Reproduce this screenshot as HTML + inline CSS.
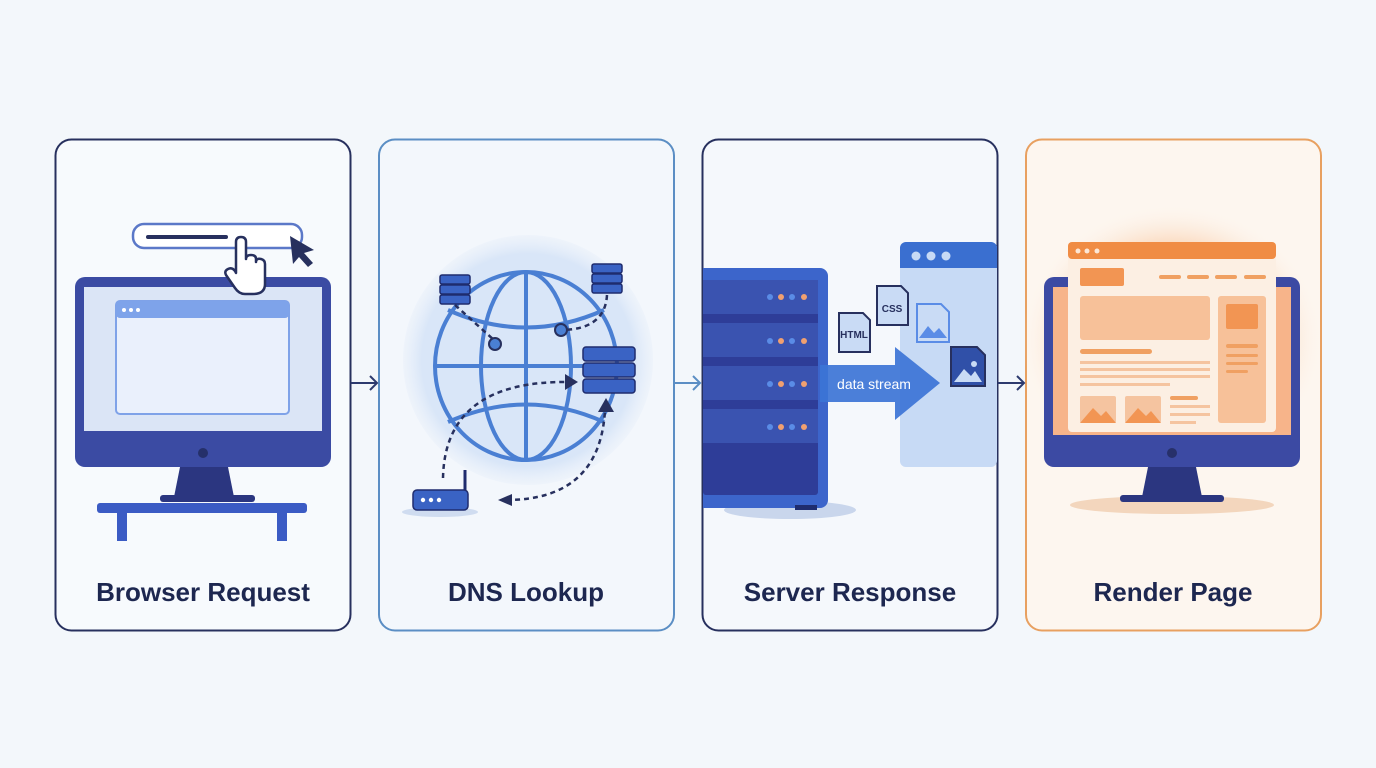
<!DOCTYPE html>
<html><head><meta charset="utf-8"><style>
html,body{margin:0;padding:0;background:#f3f7fb;}
svg{display:block}
text{font-family:"Liberation Sans",sans-serif}
</style></head><body>
<svg width="1376" height="768" viewBox="0 0 1376 768" xmlns="http://www.w3.org/2000/svg">
<defs>
<radialGradient id="og" cx="0.5" cy="0.5" r="0.5">
<stop offset="0.6" stop-color="#f7b27a" stop-opacity="0.75"/><stop offset="1" stop-color="#fdf4ec" stop-opacity="0"/>
</radialGradient>
<radialGradient id="bg2" cx="0.5" cy="0.5" r="0.5">
<stop offset="0.85" stop-color="#d9e6f8"/><stop offset="1" stop-color="#e6eef9" stop-opacity="0.4"/>
</radialGradient>
</defs>
<rect width="1376" height="768" fill="#f3f7fb"/>
<!-- cards -->
<rect x="55.5" y="139.5" width="295" height="491" rx="16" fill="#f7fafd" stroke="#27305e" stroke-width="2"/>
<rect x="379" y="139.5" width="295" height="491" rx="16" fill="#f3f7fc" stroke="#5b8ec4" stroke-width="2"/>
<rect x="702.5" y="139.5" width="295" height="491" rx="16" fill="#f5f8fc" stroke="#27305e" stroke-width="2"/>
<rect x="1026" y="139.5" width="295" height="491" rx="16" fill="#fdf6ef" stroke="#e8a060" stroke-width="2"/>
<!-- connectors -->
<g stroke="#2d3a6e" stroke-width="2" fill="none">
<path d="M351 383 H377 M370 376 L377 383 L370 390"/>
<path d="M675 383 H700 M693 376 L700 383 L693 390" stroke="#5b8ec4"/>
<path d="M998 383 H1024 M1017 376 L1024 383 L1017 390"/>
</g>
<!-- labels -->
<g font-size="26" font-weight="bold" fill="#1d2750" text-anchor="middle">
<text x="203" y="601">Browser Request</text>
<text x="526" y="601">DNS Lookup</text>
<text x="850" y="601">Server Response</text>
<text x="1173" y="601">Render Page</text>
</g>

<!-- Card 1 -->
<rect x="75" y="277" width="256" height="190" rx="10" fill="#3b4ba3"/>
<rect x="84" y="287" width="238" height="144" fill="#dbe5f6"/>
<circle cx="203" cy="453" r="5" fill="#25306a"/>
<path d="M180 467 H228 L234 497 H174 Z" fill="#2b3680"/>
<rect x="160" y="495" width="95" height="7" rx="3" fill="#2b3680"/>
<rect x="97" y="503" width="210" height="10" rx="3" fill="#3b5bc4"/>
<rect x="117" y="513" width="10" height="28" fill="#3b5bc4"/>
<rect x="277" y="513" width="10" height="28" fill="#3b5bc4"/>
<rect x="116" y="301" width="173" height="113" rx="4" fill="#eaf0fc" stroke="#7fa2e8" stroke-width="2"/>
<rect x="116" y="301" width="173" height="17" rx="4" fill="#7ea3ea"/>
<circle cx="124" cy="310" r="2" fill="#fff"/><circle cx="131" cy="310" r="2" fill="#fff"/><circle cx="138" cy="310" r="2" fill="#fff"/>
<rect x="133" y="224" width="169" height="24" rx="11" fill="#fff" stroke="#5b78c8" stroke-width="2.5"/>
<rect x="146" y="235" width="82" height="4" rx="2" fill="#27305e"/>
<!-- hand cursor -->
<path d="M236 242 q0-5 5-5 q5 0 5 5 v17 q0-4 5-4 q5 0 5 4 v3 q0-4 5-3 q4 1 4 5 v20 q0 10-12 10 h-8 q-6 0-10-6 l-9-13 q-2-4 2-6 q4-2 7 2 l1 2 Z" fill="#fff" stroke="#27305e" stroke-width="2.5" stroke-linejoin="round"/>
<path d="M290 236 L314 250 L304 253 L313 263 L308 267 L299 257 L293 264 Z" fill="#27305e"/>

<!-- Card 2 -->
<circle cx="528" cy="360" r="125" fill="url(#bg2)"/>
<g fill="none" stroke="#4a7fd3" stroke-width="4">
<ellipse cx="526" cy="366" rx="91" ry="94"/>
<ellipse cx="526" cy="366" rx="45" ry="94"/>
<line x1="526" y1="272" x2="526" y2="460"/>
<line x1="435" y1="366" x2="617" y2="366"/>
<path d="M448 310 Q526 345 604 310"/>
<path d="M448 422 Q526 387 604 422"/>
</g>
<g stroke="#27305e" stroke-width="2.5" stroke-dasharray="5 4" fill="none">
<path d="M455 305 L494 340"/>
<path d="M607 295 Q605 330 560 330"/>
<path d="M443 478 Q445 380 570 382"/>
<path d="M506 500 Q600 500 605 410"/>
</g>
<circle cx="495" cy="344" r="6" fill="#4a7fd3" stroke="#27305e" stroke-width="2"/>
<circle cx="561" cy="330" r="6" fill="#4a7fd3" stroke="#27305e" stroke-width="2"/>
<path d="M565 374 L578 382 L565 390 Z" fill="#27305e"/>
<path d="M598 412 L606 398 L614 412 Z" fill="#27305e"/>
<path d="M512 494 L498 500 L512 506 Z" fill="#27305e"/>
<g fill="#3a63c4" stroke="#1f2c6e" stroke-width="1.5">
<rect x="440" y="275" width="30" height="9" rx="2"/><rect x="440" y="285" width="30" height="9" rx="2"/><rect x="440" y="295" width="30" height="9" rx="2"/>
<rect x="592" y="264" width="30" height="9" rx="2"/><rect x="592" y="274" width="30" height="9" rx="2"/><rect x="592" y="284" width="30" height="9" rx="2"/>
<rect x="583" y="347" width="52" height="14" rx="3"/><rect x="583" y="363" width="52" height="14" rx="3"/><rect x="583" y="379" width="52" height="14" rx="3"/>
</g>
<ellipse cx="440" cy="512" rx="38" ry="5" fill="#cfdcf0"/>
<rect x="413" y="490" width="55" height="20" rx="4" fill="#3a63c4" stroke="#1f2c6e" stroke-width="1.5"/>
<line x1="465" y1="490" x2="465" y2="470" stroke="#1f2c6e" stroke-width="3"/>
<g fill="#fff"><circle cx="423" cy="500" r="2.2"/><circle cx="431" cy="500" r="2.2"/><circle cx="439" cy="500" r="2.2"/></g>

<!-- Card 3 -->
<rect x="900" y="242" width="97" height="225" rx="6" fill="#c7daf5"/>
<rect x="900" y="242" width="97" height="26" rx="6" fill="#3a6fd0"/>
<rect x="900" y="258" width="97" height="10" fill="#3a6fd0"/>
<g fill="#c7daf5"><circle cx="916" cy="256" r="4.5"/><circle cx="931" cy="256" r="4.5"/><circle cx="946" cy="256" r="4.5"/></g>
<ellipse cx="790" cy="510" rx="66" ry="9" fill="#c9d6ec"/>
<path d="M703 268 H820 a8 8 0 0 1 8 8 V500 a8 8 0 0 1-8 8 H703 Z" fill="#3c65cb"/>
<rect x="703" y="280" width="115" height="215" rx="3" fill="#2e3d98"/>
<g fill="#3a53b0">
<rect x="703" y="280" width="115" height="34"/><rect x="703" y="323" width="115" height="34"/><rect x="703" y="366" width="115" height="34"/><rect x="703" y="409" width="115" height="34"/>
</g>
<rect x="795" y="505" width="22" height="5" fill="#1f2c6e"/>
<g>
<circle cx="770" cy="297" r="3" fill="#5a8ce6"/><circle cx="781" cy="297" r="3" fill="#f0a070"/><circle cx="792" cy="297" r="3" fill="#5a8ce6"/><circle cx="804" cy="297" r="3" fill="#f0a070"/>
<circle cx="770" cy="341" r="3" fill="#5a8ce6"/><circle cx="781" cy="341" r="3" fill="#f0a070"/><circle cx="792" cy="341" r="3" fill="#5a8ce6"/><circle cx="804" cy="341" r="3" fill="#f0a070"/>
<circle cx="770" cy="384" r="3" fill="#5a8ce6"/><circle cx="781" cy="384" r="3" fill="#f0a070"/><circle cx="792" cy="384" r="3" fill="#5a8ce6"/><circle cx="804" cy="384" r="3" fill="#f0a070"/>
<circle cx="770" cy="427" r="3" fill="#5a8ce6"/><circle cx="781" cy="427" r="3" fill="#f0a070"/><circle cx="792" cy="427" r="3" fill="#5a8ce6"/><circle cx="804" cy="427" r="3" fill="#f0a070"/>
</g>
<path d="M820 365 H895 V347 L940 383 L895 420 V402 H820 Z" fill="#3c74d6" opacity="0.92"/>
<text x="874" y="389" font-size="14" fill="#fff" text-anchor="middle">data stream</text>
<g stroke="#27305e" stroke-width="2" fill="#c9dbf5">
<path d="M839 313 H863 L870 320 V352 H839 Z"/>
<path d="M877 286 H901 L908 293 V325 H877 Z"/>
<path d="M917 304 H941 L949 312 V342 H917 Z" stroke="#5a8ce6"/>
<path d="M951 347 H977 L985 355 V386 H951 Z" fill="#3050a8"/>
</g>
<text x="854" y="338" font-size="10" font-weight="bold" fill="#27305e" text-anchor="middle">HTML</text>
<text x="892" y="312" font-size="10" font-weight="bold" fill="#27305e" text-anchor="middle">CSS</text>
<path d="M919 338 L928 326 L934 333 L939 328 L947 338 Z" fill="#5a8ce6"/>
<path d="M954 382 L964 369 L971 376 L975 371 L982 382 Z" fill="#c9dbf5"/>
<circle cx="974" cy="364" r="3" fill="#c9dbf5"/>

<!-- Card 4 -->
<ellipse cx="1172" cy="340" rx="150" ry="135" fill="url(#og)"/>
<ellipse cx="1172" cy="505" rx="102" ry="9" fill="#f3d6bd"/>
<rect x="1044" y="277" width="256" height="190" rx="10" fill="#3c4aa3"/>
<rect x="1053" y="287" width="238" height="148" fill="#f7b48a"/>
<circle cx="1172" cy="453" r="5" fill="#27306a"/>
<path d="M1148 467 H1196 L1202 497 H1142 Z" fill="#2b3680"/>
<rect x="1120" y="495" width="104" height="7" rx="3" fill="#2b3680"/>
<rect x="1068" y="242" width="208" height="190" rx="4" fill="#fcefe3"/>
<rect x="1068" y="242" width="208" height="17" rx="4" fill="#f08c44"/>
<g fill="#fce7d6"><circle cx="1078" cy="251" r="2.5"/><circle cx="1087" cy="251" r="2.5"/><circle cx="1097" cy="251" r="2.5"/></g>
<rect x="1080" y="268" width="44" height="18" rx="2" fill="#f29553"/>
<g fill="#f0a062"><rect x="1159" y="275" width="22" height="4" rx="2"/><rect x="1187" y="275" width="22" height="4" rx="2"/><rect x="1215" y="275" width="22" height="4" rx="2"/><rect x="1244" y="275" width="22" height="4" rx="2"/></g>
<rect x="1080" y="296" width="130" height="44" rx="3" fill="#f7c199"/>
<rect x="1218" y="296" width="48" height="127" rx="3" fill="#f7c199"/>
<rect x="1226" y="304" width="32" height="25" rx="2" fill="#f29553"/>
<g fill="#f0a062"><rect x="1226" y="344" width="32" height="4" rx="2"/><rect x="1226" y="354" width="32" height="3" rx="1.5"/><rect x="1226" y="362" width="32" height="3" rx="1.5"/><rect x="1226" y="370" width="22" height="3" rx="1.5"/>
<rect x="1080" y="349" width="72" height="5" rx="2.5"/></g>
<g fill="#f5c4a0"><rect x="1080" y="361" width="130" height="3"/><rect x="1080" y="368" width="130" height="3"/><rect x="1080" y="375" width="130" height="3"/><rect x="1080" y="383" width="90" height="3"/>
<rect x="1080" y="396" width="36" height="27" rx="2"/><rect x="1125" y="396" width="36" height="27" rx="2"/></g>
<path d="M1080 423 L1093 408 L1101 416 L1106 411 L1116 423 Z" fill="#f29553"/>
<path d="M1125 423 L1138 408 L1146 416 L1151 411 L1161 423 Z" fill="#f29553"/>
<g fill="#f0a062"><rect x="1170" y="396" width="28" height="4" rx="2"/></g>
<g fill="#f5c4a0"><rect x="1170" y="405" width="40" height="3"/><rect x="1170" y="413" width="40" height="3"/><rect x="1170" y="421" width="26" height="3"/></g>
</svg>
</body></html>
